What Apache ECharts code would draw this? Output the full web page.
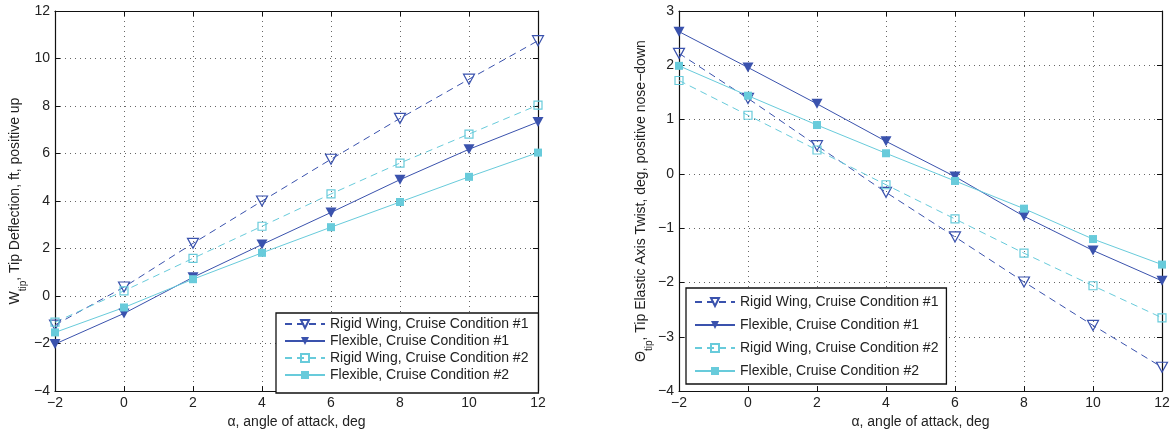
<!DOCTYPE html>
<html>
<head>
<meta charset="utf-8">
<script src="https://cdn.jsdelivr.net/npm/echarts@6/dist/echarts.min.js"></script>
<style>
html,body{margin:0;padding:0;background:#fff;}
#c{width:1174px;height:434px;}
</style>
</head>
<body>
<div id="c"></div>
<script>
// ---- data ----
const alpha = [-2, 0, 2, 4, 6, 8, 10, 12];
const seriesNames = [
  'Rigid Wing, Cruise Condition #1',
  'Flexible, Cruise Condition #1',
  'Rigid Wing, Cruise Condition #2',
  'Flexible, Cruise Condition #2'
];
// Left: tip deflection, ft
const wRigid1 = [-1.22, 0.38, 2.22, 4.00, 5.76, 7.48, 9.13, 10.75];
const wFlex1  = [-2.02, -0.73, 0.79, 2.17, 3.52, 4.90, 6.18, 7.33];
const wRigid2 = [-1.10, 0.22, 1.59, 2.94, 4.30, 5.60, 6.82, 8.04];
const wFlex2  = [-1.53, -0.48, 0.71, 1.82, 2.90, 3.96, 5.02, 6.04];
// Right: tip elastic axis twist, deg
const tRigid1 = [2.22, 1.39, 0.52, -0.34, -1.16, -1.99, -2.79, -3.56];
const tFlex1  = [2.62, 1.96, 1.29, 0.60, -0.05, -0.78, -1.41, -1.97];
const tRigid2 = [1.72, 1.08, 0.44, -0.20, -0.83, -1.46, -2.06, -2.65];
const tFlex2  = [1.99, 1.44, 0.90, 0.38, -0.13, -0.64, -1.20, -1.67];
// axis settings
const xRange = [-2, 12], xStep = 2;
const wRange = [-4, 12], wStep = 2;
const tRange = [-4, 3], tStep = 1;

const dark = '#3a52ad';
const cyan = '#68cbdb';
const FONT = 'Liberation Sans, Arial, sans-serif';
const FS = 14;

function zip(ys){ return alpha.map((a,i)=>[a, ys[i]]); }
function fmt(v){ return String(v).replace('-', '\u2212'); }

function mkSeries(name, ys, color, rigid, tri, xi, yi){
  return {
    name: name, type: 'line', xAxisIndex: xi, yAxisIndex: yi,
    data: zip(ys), color: color,
    symbol: tri ? 'triangle' : 'rect',
    symbolSize: tri ? [11, 10] : [8, 8],
    symbolRotate: tri ? 180 : 0,
    lineStyle: {color: color, width: 1, type: rigid ? [7, 5] : 'solid'},
    itemStyle: rigid ? {color: 'rgba(255,255,255,0)', borderColor: color, borderWidth: 1.2}
                     : {color: color, borderColor: color, borderWidth: 0},
    emphasis: {disabled: true},
    animation: false, z: 3
  };
}

const axLabel = {color: '#222', fontSize: FS, fontFamily: FONT};
function xAx(gi, pos){
  const main = pos === 'bottom';
  return {
    type: 'value', gridIndex: gi, position: pos, min: xRange[0], max: xRange[1], interval: xStep,
    axisLine: {show: true, onZero: false, lineStyle: {color: '#111', width: 1.2}},
    axisTick: {show: true, inside: true, length: 5, lineStyle: {color: '#111'}},
    axisLabel: main ? Object.assign({margin: 5, formatter: fmt}, axLabel) : {show: false},
    splitLine: main ? {show: true, lineStyle: {color: '#666', type: [1, 4], width: 1}} : {show: false},
    name: main ? '\u03b1, angle of attack, deg' : '',
    nameLocation: 'middle', nameGap: 21,
    nameTextStyle: {color: '#222', fontSize: FS, fontFamily: FONT}
  };
}
function yAx(gi, pos, range, step, title, gap){
  const main = pos === 'left';
  return {
    type: 'value', gridIndex: gi, position: pos, min: range[0], max: range[1], interval: step,
    axisLine: {show: true, onZero: false, lineStyle: {color: '#111', width: 1.2}},
    axisTick: {show: true, inside: true, length: 5, lineStyle: {color: '#111'}},
    axisLabel: main ? Object.assign({margin: 5, formatter: fmt}, axLabel) : {show: false},
    splitLine: main ? {show: true, lineStyle: {color: '#666', type: [1, 4], width: 1}} : {show: false},
    name: main ? title : '',
    nameLocation: 'middle', nameGap: main ? gap : 0, nameRotate: 90,
    nameTextStyle: {
      color: '#222', fontSize: FS, fontFamily: FONT,
      rich: {
        m: {fontSize: FS, fontFamily: FONT, color: '#222'},
        s: {fontSize: 10, fontFamily: FONT, color: '#222', verticalAlign: 'bottom', padding: [0, 0, -6, 0]}
      }
    }
  };
}

const legendCommon = {
  orient: 'vertical', data: seriesNames,
  itemWidth: 40, itemHeight: 10,
  textStyle: {color: '#222', fontSize: FS, fontFamily: FONT, lineHeight: 16},
  borderColor: '#111', borderWidth: 1.3, backgroundColor: '#fff',
  selectedMode: false, z: 10
};

const option = {
  backgroundColor: '#fff',
  animation: false,
  grid: [
    {left: 55, top: 11, width: 483, height: 382, show: false},
    {left: 679, top: 11, width: 483, height: 382, show: false}
  ],
  xAxis: [xAx(0, 'bottom'), xAx(0, 'top'), xAx(1, 'bottom'), xAx(1, 'top')],
  yAxis: [
    yAx(0, 'left', wRange, wStep, '{m|W}{s|tip}{m|, Tip Deflection, ft, positive up}', 33),
    yAx(0, 'right', wRange, wStep, '', 0),
    yAx(1, 'left', tRange, tStep, '{m|\u0398}{s|tip}{m|, Tip Elastic Axis Twist, deg, positive nose\u2212down}', 31),
    yAx(1, 'right', tRange, tStep, '', 0)
  ],
  legend: [
    Object.assign({}, legendCommon, {left: 276, top: 313, itemGap: 1, padding: [3, 10, 10, 8]}),
    Object.assign({}, legendCommon, {left: 686, top: 288, itemGap: 7, padding: [6, 8, 5, 8]})
  ],
  series: [
    mkSeries(seriesNames[0], wRigid1, dark, true, true, 0, 0),
    mkSeries(seriesNames[1], wFlex1, dark, false, true, 0, 0),
    mkSeries(seriesNames[2], wRigid2, cyan, true, false, 0, 0),
    mkSeries(seriesNames[3], wFlex2, cyan, false, false, 0, 0),
    mkSeries(seriesNames[0], tRigid1, dark, true, true, 2, 2),
    mkSeries(seriesNames[1], tFlex1, dark, false, true, 2, 2),
    mkSeries(seriesNames[2], tRigid2, cyan, true, false, 2, 2),
    mkSeries(seriesNames[3], tFlex2, cyan, false, false, 2, 2)
  ]
};

const chart = echarts.init(document.getElementById('c'), null, {renderer: 'canvas'});
chart.setOption(option);
</script>
</body>
</html>
